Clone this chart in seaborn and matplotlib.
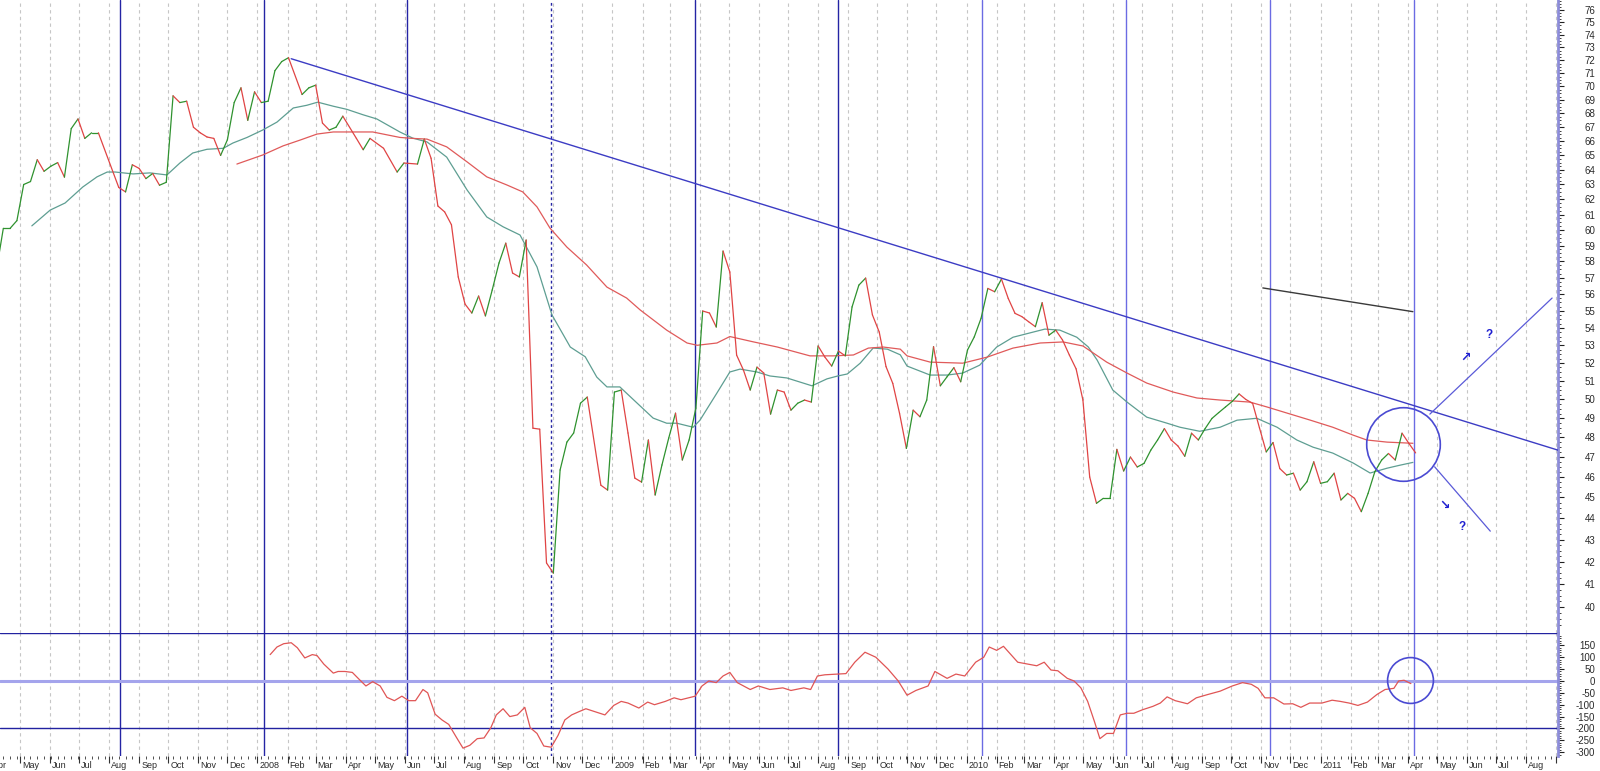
import numpy as np
import pandas as pd
import seaborn as sns
import matplotlib
matplotlib.use("Agg")
import matplotlib.pyplot as plt
from matplotlib.ticker import FixedLocator, FixedFormatter, NullFormatter
from matplotlib.transforms import Bbox, TransformedBbox, blended_transform_factory, ScaledTranslation

sns.set_theme(style="white")
plt.rcParams["font.family"] = ["Liberation Sans", "DejaVu Sans"]

# weekly bars, week 0 = 2007-04-14
start = pd.Timestamp("2007-04-14")

# 1. DATA - weekly closes (week index, price)
price_wk = ([-1] + list(range(0, 15)) + list(range(17, 43)) + list(range(44, 51))
            + [52, 53, 54, 56, 58, 59] + list(range(61, 87)) + list(range(88, 209)))
price_close = [
    57.5, 60.1, 60.1, 60.6, 63.0, 63.2, 64.7, 63.9, 64.25, 64.5, 63.5, 66.9, 67.6, 66.2, 66.6, 66.6,
    62.8, 62.5, 64.35, 64.1, 63.4, 63.75, 62.95, 63.15, 69.3, 68.8, 68.9, 67.0, 66.6, 66.3, 66.2,
    65.0, 66.1, 68.8, 69.9, 67.5, 69.6, 68.8, 68.9, 71.2, 71.9, 72.2,
    69.4, 69.9, 70.1, 67.3, 66.8, 67.0, 67.8,
    66.2, 65.4, 66.2, 65.5, 63.85, 64.47,
    64.4, 66.15, 64.8, 61.56, 61.17, 60.33, 57.04, 55.4, 54.87, 55.88, 54.7, 56.24, 57.9, 59.15,
    57.28, 57.04, 59.35, 48.48, 48.43, 41.94, 41.49, 46.35, 47.76, 48.23, 49.8, 50.13,
    45.6, 45.36, 50.4, 50.51, 48.23, 45.95, 45.75, 47.87, 45.12, 46.6,
    47.97, 49.27, 46.85, 47.87, 49.54, 54.99, 54.87, 54.05, 58.65, 57.34,
    52.44, 51.61, 50.51, 51.77, 51.44, 49.22, 50.51, 50.4, 49.43, 49.8,
    49.97, 49.86, 52.96, 52.33, 51.83, 52.67, 52.4, 55.23, 56.54, 56.97,
    54.76, 53.76, 51.8, 50.87, 49.25, 47.44, 49.43, 49.08, 49.97, 52.92,
    50.74, 51.24, 51.74, 50.96, 52.73, 53.48, 54.56, 56.34, 56.14, 56.91,
    55.74, 54.85, 54.66, 54.36, 54.07, 55.48, 53.58, 53.87, 53.3, 52.45,
    51.67, 49.97, 46.0, 44.72, 44.96, 44.96, 47.39, 46.3, 47.0, 46.5,
    46.68, 47.35, 47.87, 48.46, 47.87, 47.56, 47.04, 48.22, 47.87, 48.46,
    48.99, 49.3, 49.6, 49.9, 50.3, 50.0, 49.79, 48.5, 47.26, 47.74,
    46.42, 46.1, 46.19, 45.36, 45.77, 46.76, 45.69, 45.77, 46.19, 44.88,
    45.2, 44.96, 44.32, 45.2, 46.27, 46.85, 47.18, 46.85, 48.22, 47.7,
    47.21]

# short moving average (teal)
ma_short_wk = [4.2, 6.9, 9.1, 11.7, 13.8, 15.3, 16.5, 19.1, 21.6, 24.1, 26.0, 27.9, 30.0, 32.4, 33.8,
               35.9, 38.2, 40.3, 42.7, 44.7, 46.3, 48.6, 50.6, 53.0, 55.0, 58.4, 60.3, 62.4, 65.3, 68.3,
               71.2, 73.6, 76.1, 78.6, 80.8, 83.5, 85.7, 87.4, 88.9, 90.8, 93.8, 95.7, 97.7, 99.2, 101.6,
               102.6, 105.1, 107.0, 108.5, 111.0, 112.9, 115.4, 119.1, 121.3, 122.9, 124.3, 126.2, 128.1,
               130.2, 132.1, 133.1, 136.5, 139.0, 141.3, 143.8, 146.3, 148.7, 151.6, 153.4, 155.6, 158.1,
               159.8, 161.1, 163.4, 165.5, 168.4, 171.4, 173.3, 176.2, 179.2, 181.7, 184.6, 187.6, 190.5,
               192.9, 195.8, 198.8, 201.3, 203.8, 205.7, 207.6]
ma_short = [60.26, 61.29, 61.76, 62.83, 63.52, 63.85, 63.85, 63.72, 63.79, 63.65, 64.47, 65.17, 65.43,
            65.5, 65.87, 66.27, 66.8, 67.37, 68.4, 68.6, 68.83, 68.53, 68.3, 67.9, 67.6, 66.66, 66.22,
            65.95, 64.88, 62.63, 60.84, 60.2, 59.67, 57.66, 54.76, 52.9, 52.35, 51.22, 50.68, 50.68,
            49.65, 49.01, 48.74, 48.74, 48.53, 48.9, 50.35, 51.5, 51.66, 51.5, 51.28, 51.17, 50.74,
            51.12, 51.28, 51.39, 51.99, 52.84, 52.78, 52.46, 51.83, 51.33, 51.33, 51.44, 51.88, 52.9,
            53.46, 53.75, 53.93, 53.87, 53.46, 52.9, 52.16, 50.51, 49.86, 49.06, 48.74, 48.53, 48.32,
            48.53, 48.9, 49.0, 48.53, 47.87, 47.5, 47.2, 46.7, 46.2, 46.44, 46.59, 46.73]

# long moving average (red)
ma_long_wk = [34.4, 38.2, 41.2, 43.7, 46.2, 48.6, 51.5, 54.4, 58.4, 60.3, 62.4, 65.3, 68.3, 71.2, 74.2,
              76.5, 78.6, 80.5, 83.0, 85.9, 88.9, 91.8, 93.8, 97.7, 100.7, 102.2, 105.1, 107.0, 110.4,
              114.0, 118.8, 122.2, 125.2, 127.4, 129.6, 132.1, 133.1, 136.5, 141.3, 144.9, 148.7, 152.7,
              156.1, 159.0, 162.5, 165.5, 168.4, 172.3, 175.8, 179.2, 183.6, 186.1, 189.1, 192.5, 195.8,
              198.8, 200.8, 203.8, 207.6]
ma_long = [64.4, 65.03, 65.67, 66.08, 66.51, 66.66, 66.66, 66.66, 66.27, 66.2, 66.15, 65.6, 64.55, 63.52,
           62.96, 62.5, 61.5, 60.12, 58.9, 57.78, 56.42, 55.76, 55.05, 53.87, 53.13, 53.0, 53.13, 53.5,
           53.2, 52.9, 52.4, 52.4, 52.45, 52.84, 52.9, 52.78, 52.4, 52.05, 51.99, 52.33, 52.84, 53.13,
           53.19, 52.96, 52.05, 51.44, 50.89, 50.4, 50.08, 49.97, 49.86, 49.6, 49.27, 48.9, 48.53,
           48.12, 47.87, 47.76, 47.7]

# oscillator (lower panel)
osc_wk = [39.3, 40.3, 41.3, 42.4, 43.3, 44.4, 45.5, 46.2, 47.2, 48.6, 49.3, 50.3, 51.4, 52.4, 53.4, 54.4,
          55.5, 56.5, 57.6, 58.7, 59.7, 60.7, 61.8, 62.5, 63.6, 64.6, 65.6, 66.7, 67.7, 68.7, 69.8, 70.8,
          71.8, 72.6, 73.6, 74.6, 75.7, 76.8, 77.6, 78.6, 79.6, 80.7, 81.7, 82.7, 83.7, 84.8, 85.8, 87.1,
          88.6, 89.9, 91.0, 92.0, 93.6, 94.9, 95.9, 97.5, 98.8, 99.8, 101.9, 102.9, 103.9, 105.0, 106.0,
          107.0, 108.1, 110.0, 111.2, 112.9, 114.8, 116.0, 117.9, 118.9, 119.9, 121.0, 123.0, 124.1,
          125.4, 126.9, 128.5, 130.3, 131.8, 133.1, 134.4, 136.2, 137.2, 139.0, 140.3, 141.6, 143.2,
          144.4, 145.2, 146.3, 147.3, 148.3, 149.4, 150.9, 152.2, 153.3, 154.3, 155.3, 156.7, 157.7,
          158.7, 159.7, 160.7, 161.5, 162.5, 163.5, 164.5, 165.5, 166.5, 167.8, 169.3, 170.4, 171.4,
          172.6, 174.4, 175.7, 177.4, 179.2, 181.0, 182.5, 183.8, 184.8, 185.8, 187.1, 188.6, 189.9,
          191.1, 192.4, 194.2, 195.7, 196.9, 198.2, 199.5, 200.9, 202.3, 203.5, 204.8, 205.5, 206.3, 207.3]
osc_val = [111, 143, 157, 161, 140, 97, 111, 107, 71, 33, 40, 40, 36, 7, -21, -3,
           -21, -69, -83, -64, -83, -83, -36, -50, -140, -164, -183, -236, -283, -271, -243, -240,
           -197, -143, -117, -150, -143, -111, -197, -221, -274, -279, -229, -164, -143, -129, -117, -129,
           -143, -103, -86, -93, -114, -89, -100, -86, -71, -79, -64, -21, 0, -7, 21,
           36, -7, -36, -21, -36, -29, -40, -29, -36, 21, 26, 29, 31,
           79, 121, 100, 50, 0, -60, -40, -21, 40, 11, 29, 21, 79,
           100, 143, 129, 146, 114, 79, 71, 64, 79, 46, 43, 11, 0,
           -29, -86, -171, -243, -221, -221, -143, -136, -136, -121, -107, -93, -67,
           -83, -96, -71, -57, -43, -21, -7, -14, -31, -71, -71, -97, -96,
           -111, -93, -93, -81, -86, -93, -103, -89, -57, -36, -31, 0, 3, -11]

# cycle lines (weeks), trend lines, annotations
cycle_wk = [17.2, 38.4, 59.5, 80.7, 101.8, 123.0, 144.1, 165.3, 186.5, 207.7]
trend_wk, trend_val = [42.4, 228.97], [72.12, 47.35]
flat_wk, flat_val = [185.5, 207.6], [56.37, 54.95]
up_wk, up_val = [210.1, 228.1], [49.22, 55.76]
down_wk, down_val = [210.8, 219.0], [46.51, 43.4]

months = pd.date_range("2007-04-01", "2011-09-01", freq="MS")
month_wk = np.asarray((months - start).days) / 7.0
month_lbl = [str(d.year) if d.month == 1 else d.strftime("%b") for d in months]

# 2. FIGURE
fig = plt.figure(figsize=(16, 7.71), dpi=100)
ax_w = 1558 / 1600
ax = fig.add_axes([0, 1 - 633 / 771, ax_w, 633 / 771])
ax2 = fig.add_axes([0, 1 - 756 / 771, ax_w, 123 / 771], sharex=ax)

x_lo, x_hi = -0.49, 228.97
ax.set_xlim(x_lo, x_hi)
ax.set_yscale("log")
ax.set_ylim(38.9, 76.82)
ax2.set_ylim(-316, 202)

grid_col = "#c6c6c6"
for a in (ax, ax2):
    for wk in month_wk:
        a.axvline(wk, color=grid_col, lw=0.8, ls=(0, (3, 3)), zorder=0)
    for i, wk in enumerate(cycle_wk):
        col = "#2424a4" if i < 6 else "#6b6be3"
        ls = (0, (2, 2)) if i == 3 else "-"
        a.axvline(wk, color=col, lw=1.0, ls=ls, zorder=1)

# moving averages
sns.lineplot(x=ma_short_wk, y=ma_short, ax=ax, color="#5e9e92", lw=0.9, estimator=None, zorder=2)
sns.lineplot(x=ma_long_wk, y=ma_long, ax=ax, color="#e05a5a", lw=0.9, estimator=None, zorder=2)

# price line, green rising / red falling
for i in range(len(price_close) - 1):
    col = "#2f922f" if price_close[i + 1] >= price_close[i] else "#e04444"
    ax.plot(price_wk[i:i + 2], price_close[i:i + 2], color=col, lw=0.9, zorder=3,
            solid_capstyle="round")

# trend lines
ax.plot(trend_wk, trend_val, color="#3c3cc4", lw=1.0, zorder=4)
ax.plot(flat_wk, flat_val, color="#3a3a3a", lw=1.0, zorder=4)
ax.plot(up_wk, up_val, color="#5a5ad8", lw=0.9, zorder=4)
ax.plot(down_wk, down_val, color="#5a5ad8", lw=0.9, zorder=4)
ax.plot([206.1], [47.68], marker="o", ms=53, mfc="none", mec="#4a4ad2", mew=1.2, zorder=5)
ax.text(215.4, 52.3, "\u2197", color="#1f1fd0", fontsize=9, fontweight="bold", ha="center", va="center",
        family="DejaVu Sans")
ax.text(218.8, 53.6, "?", color="#1f1fd0", fontsize=8.5, fontweight="bold", ha="center", va="center")
ax.text(212.3, 44.6, "\u2198", color="#1f1fd0", fontsize=9, fontweight="bold", ha="center", va="center",
        family="DejaVu Sans")
ax.text(214.8, 43.6, "?", color="#1f1fd0", fontsize=8.5, fontweight="bold", ha="center", va="center")

# lower panel
ax2.axhline(0, color="#a4a4ec", lw=2.2, zorder=1)
ax2.axhline(200, color="#2222a0", lw=1.0, zorder=1)
ax2.axhline(-200, color="#2222a0", lw=1.0, zorder=1)
sns.lineplot(x=osc_wk, y=osc_val, ax=ax2, color="#e05555", lw=0.9, estimator=None, zorder=3)
ax2.plot([207.1], [3], marker="o", ms=33, mfc="none", mec="#4a4ad2", mew=1.2, zorder=5)

# 3. AXES STYLING
for a in (ax, ax2):
    for s in ("top", "left", "bottom"):
        a.spines[s].set_visible(False)
    a.spines["right"].set_color("#8c8cd8")
    a.spines["right"].set_linewidth(2)
    a.yaxis.tick_right()
    a.set_xlabel("")
    a.set_ylabel("")

ax.yaxis.set_major_locator(FixedLocator(list(range(40, 77))))
ax.yaxis.set_major_formatter(FixedFormatter([str(v) for v in range(40, 77)]))
ax.yaxis.set_minor_locator(FixedLocator([v / 4 for v in range(156, 308) if v % 4]))
ax.yaxis.set_minor_formatter(NullFormatter())

osc_ticks = list(range(-300, 151, 50))
ax2.yaxis.set_major_locator(FixedLocator(osc_ticks))
ax2.yaxis.set_major_formatter(FixedFormatter([str(v) for v in osc_ticks]))
ax2.yaxis.set_minor_locator(FixedLocator([v for v in range(-310, 201, 10) if v % 50]))

for a in (ax, ax2):
    a.tick_params(axis="y", which="major", right=True, left=False, length=4.3, width=0.8,
                  color="#222222", labelcolor="#2a2a2a", labelsize=7, pad=22.5)
    a.tick_params(axis="y", which="minor", right=True, left=False, length=2.2, width=0.6, color="#222222")
    for t in a.get_yticklabels():
        t.set_horizontalalignment("right")

ax.tick_params(axis="x", which="both", bottom=False, labelbottom=False)
ax2.xaxis.set_major_locator(FixedLocator(month_wk))
ax2.xaxis.set_major_formatter(NullFormatter())
ax2.xaxis.set_minor_locator(FixedLocator(list(range(0, 229))))
ax2.tick_params(axis="x", which="major", bottom=True, length=5, width=0.8, color="#333333")
ax2.tick_params(axis="x", which="minor", bottom=True, length=2.5, width=0.6, color="#333333")
ax2.set_xlim(x_lo, x_hi)

# month labels, clipped at the right axis line
lab_tr = blended_transform_factory(ax2.transData, fig.transFigure) + \
    ScaledTranslation(1.5 / 72, 0, fig.dpi_scale_trans)
clip = TransformedBbox(Bbox([[0, 0], [ax_w, 1]]), fig.transFigure)
for wk, lbl in zip(month_wk, month_lbl):
    t = fig.text(wk, 1 - 766 / 771, lbl, transform=lab_tr, ha="left", va="center",
                 fontsize=6.5, color="#2a2a2a")
    t.set_clip_box(clip)
    t.set_clip_on(True)

fig.savefig("out.png", dpi=100)
